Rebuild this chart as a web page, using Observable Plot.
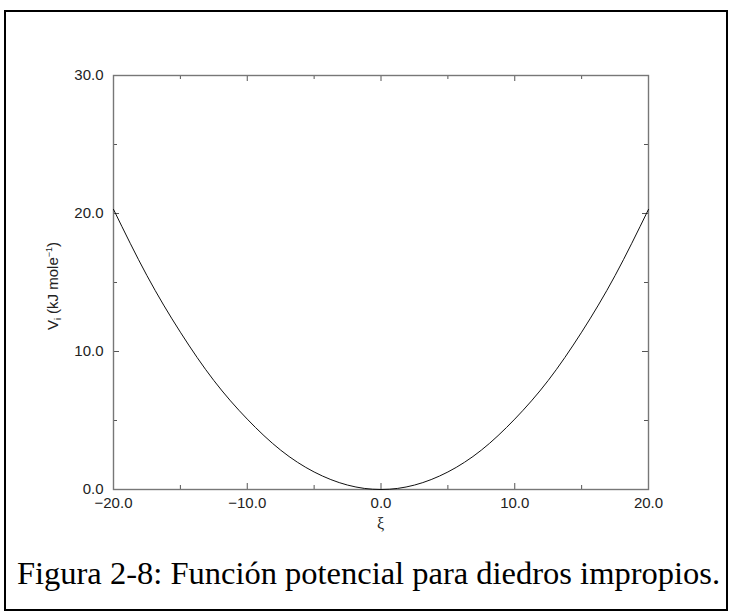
<!DOCTYPE html>
<html><head><meta charset="utf-8">
<script src="https://cdn.jsdelivr.net/npm/d3@7"></script>
<script src="https://cdn.jsdelivr.net/npm/@observablehq/plot@0.6"></script>
<style>
body{margin:0;background:#fff;}
#wrap{position:relative;width:731px;height:614px;overflow:hidden;background:#fff;}
#border{position:absolute;left:4px;top:10px;width:724px;height:601px;border:2px solid #000;box-sizing:border-box;}
#chart{position:absolute;left:0;top:0;}
#caption{position:absolute;left:0;width:737px;top:557px;text-align:center;font-family:"Liberation Serif","Times New Roman",serif;font-size:32.5px;line-height:32px;white-space:nowrap;color:#000;}
</style></head><body>
<div id="wrap"><div id="border"></div><div id="chart"></div><div id="caption">Figura 2-8: Función potencial para diedros impropios.</div></div>
<script>
// ξ values (degrees) and potential V_i (kJ/mol)
const xi = [-20, -17.5, -15, -12.5, -10, -7.5, -5, -2.5, 0, 2.5, 5, 7.5, 10, 12.5, 15, 17.5, 20];
const V  = [20.3, 15.5, 11.4, 7.9, 5.1, 2.85, 1.27, 0.32, 0, 0.32, 1.27, 2.85, 5.1, 7.9, 11.4, 15.5, 20.3];
const xMajor = [-20, -10, 0, 10, 20];
const xMinor = [-15, -5, 5, 15];
const yMajor = [0, 10, 20, 30];
const yMinor = [5, 15, 25];
const xLabel = "ξ";

const data = xi.map((x, i) => ({xi: x, v: V[i]}));
const W = 731, H = 540, mt = 75, mb = 51, ml = 113, mr = 83;
const ih = H - mt - mb, iw = W - ml - mr;
const fmt = d3.format(".1f");
const tickCol = "#555";
const sans = "'Liberation Sans', Arial, sans-serif";

const chart = Plot.plot({
  width: W, height: H,
  marginTop: mt, marginBottom: mb, marginLeft: ml, marginRight: mr,
  style: {fontFamily: sans, fontSize: "15px", color: "#222", background: "transparent"},
  x: {domain: [-20, 20]},
  y: {domain: [0, 30]},
  marks: [
    Plot.axisX({ticks: xMajor, anchor: "bottom", tickSize: 0, tickPadding: 8, tickFormat: fmt, label: null, fontSize: 15}),
    Plot.axisY({ticks: yMajor, anchor: "left", tickSize: 0, tickPadding: 10, tickFormat: fmt, label: null, fontSize: 15}),
    // inward ticks, bottom & top
    Plot.tickX(xMajor, {insetTop: ih - 6, stroke: tickCol}),
    Plot.tickX(xMinor, {insetTop: ih - 4, stroke: tickCol}),
    Plot.tickX(xMajor, {insetBottom: ih - 6, stroke: tickCol}),
    Plot.tickX(xMinor, {insetBottom: ih - 4, stroke: tickCol}),
    // inward ticks, left & right
    Plot.tickY(yMajor, {insetRight: iw - 6, stroke: tickCol}),
    Plot.tickY(yMinor, {insetRight: iw - 4, stroke: tickCol}),
    Plot.tickY(yMajor, {insetLeft: iw - 6, stroke: tickCol}),
    Plot.tickY(yMinor, {insetLeft: iw - 4, stroke: tickCol}),
    Plot.frame({stroke: "#777", strokeWidth: 1.4}),
    Plot.line(data, {x: "xi", y: "v", curve: "natural", stroke: "#111", strokeWidth: 1})
  ]
});
document.getElementById("chart").appendChild(chart);

const svg = d3.select(chart);
const ys = chart.scale("y"), xs = chart.scale("x");
const yl = svg.append("text")
  .attr("transform", `translate(58,${ys.apply(15) + 4}) rotate(-90)`)
  .attr("text-anchor", "middle")
  .attr("font-family", sans)
  .attr("font-size", 15)
  .attr("fill", "#222");
yl.append("tspan").text("V");
yl.append("tspan").attr("font-size", 9).attr("dy", 3).text("i");
yl.append("tspan").attr("dy", -3).text(" (kJ mole");
yl.append("tspan").attr("font-size", 9).attr("dy", -6).text("−1");
yl.append("tspan").attr("dy", 6).text(")");

svg.append("text")
  .attr("x", xs.apply(0))
  .attr("y", 529)
  .attr("text-anchor", "middle")
  .attr("font-family", "'Liberation Serif', serif")
  .attr("font-size", 16)
  .attr("fill", "#222")
  .text(xLabel);
</script>
</body></html>
